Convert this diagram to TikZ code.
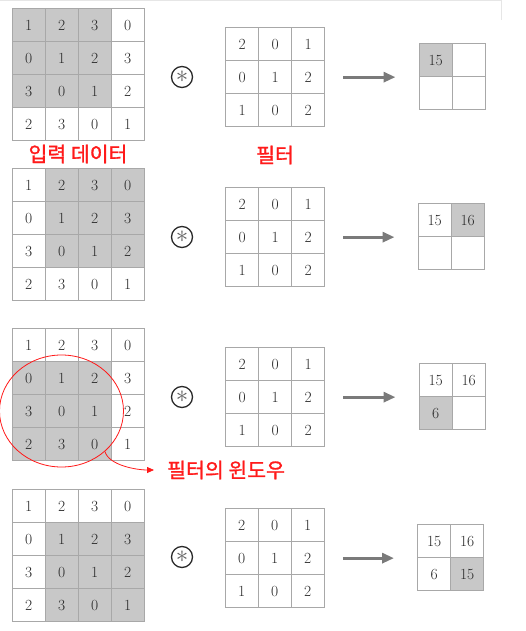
\documentclass[tikz,border=0pt]{standalone}
\usepackage{fontspec}
\newfontfamily\kr[FakeBold=1.3]{Noto Sans CJK KR}
\usetikzlibrary{arrows.meta,shapes.geometric}
\definecolor{gridline}{HTML}{A8A8A8}
\definecolor{shade}{HTML}{C8C8C8}
\definecolor{numcol}{HTML}{2A2A2A}
\definecolor{arrowgray}{HTML}{7A7A7A}
\definecolor{kred}{HTML}{FF1A1A}
\definecolor{faint}{HTML}{E6E6E6}
\tikzset{
  cell/.style={draw=gridline, line width=1.3pt, minimum size=33pt, inner sep=0pt,
    anchor=north west, text=numcol, font=\fontsize{15.5}{17}\selectfont},
  gridframe/.style={draw=gridline, line width=1.3pt, inner sep=0pt, anchor=north west},
  conv/.style={circle, draw=numcol, line width=1.3pt, minimum size=21pt, inner sep=0pt,
    text=numcol!75, font=\fontsize{24}{24}\selectfont},
  bigarrow/.style={draw=arrowgray, line width=3pt, -{Triangle[length=12pt,width=10pt]},
    shorten <=18pt, shorten >=23pt},
  klabel/.style={text=kred, font=\kr\fontsize{20.5}{23}\selectfont, inner sep=2pt},
  window/.style={draw=kred, line width=0.8pt, ellipse, inner sep=0pt},
  winarrow/.style={draw=kred, line width=0.8pt, -{Triangle[length=7pt,width=6pt]}}
}
\newcommand\inputgrid[5]{%
  \foreach \v [count=\k from 0] in {1,2,3,0,0,1,2,3,3,0,1,2,2,3,0,1} {
    \pgfmathtruncatemacro\rr{div(\k,4)}
    \pgfmathtruncatemacro\cc{mod(\k,4)}
    \pgfmathtruncatemacro\sh{(\rr>=#4)&&(\rr<#4+3)&&(\cc>=#5)&&(\cc<#5+3)}
    \ifnum\sh=1 \def\fillc{shade}\else\def\fillc{white}\fi
    \node[cell, fill=\fillc] (#1-\rr-\cc) at (#2+33*\cc, #3+33*\rr) {\v};
  }
  \node[gridframe, minimum size=132pt] (#1) at (#2,#3) {};
}
\newcommand\filtergrid[3]{%
  \foreach \v [count=\k from 0] in {2,0,1,0,1,2,1,0,2} {
    \pgfmathtruncatemacro\rr{div(\k,3)}
    \pgfmathtruncatemacro\cc{mod(\k,3)}
    \node[cell, fill=white] (#1-\rr-\cc) at (#2+33*\cc, #3+33*\rr) {\v};
  }
  \node[gridframe, minimum size=99pt] (#1) at (#2,#3) {};
}
\newcommand\outgrid[4]{%
  \foreach \v/\f [count=\k from 0] in {#4} {
    \pgfmathtruncatemacro\rr{div(\k,2)}
    \pgfmathtruncatemacro\cc{mod(\k,2)}
    \node[cell, fill=\f] (#1-\rr-\cc) at (#2+33*\cc, #3+33*\rr) {\v};
  }
  \node[gridframe, minimum size=66pt] (#1) at (#2,#3) {};
}
\begin{document}
\begin{tikzpicture}[x=1pt,y=-1pt]
\useasboundingbox (0,0) rectangle (526,631);
\draw[faint, line width=0.8pt] (0,0.6) -- (501,0.6) -- (501,20);

% panel 1
\inputgrid{in1}{11.5}{8}{0}{0}
\node[conv] (s1) at (182,77) {$\ast$};
\filtergrid{f1}{225}{27}
\outgrid{o1}{418.5}{43}{15/shade,/white,/white,/white}
\draw[bigarrow] (f1.east) -- (o1.west |- f1.east);
\node[klabel] (l1) at (78,154) {입력 데이터};
\node[klabel] (l2) at (275,155) {필터};

% panel 2
\inputgrid{in2}{11.5}{168}{0}{1}
\node[conv] (s2) at (182,237) {$\ast$};
\filtergrid{f2}{225}{187}
\outgrid{o2}{417.5}{203}{15/white,16/shade,/white,/white}
\draw[bigarrow] (f2.east) -- (o2.west |- f2.east);

% panel 3
\inputgrid{in3}{11.5}{328}{1}{0}
\node[conv] (s3) at (182,397) {$\ast$};
\filtergrid{f3}{225}{347}
\outgrid{o3}{418.5}{363}{15/white,16/white,6/shade,/white}
\draw[bigarrow] (f3.east) -- (o3.west |- f3.east);
\node[window, minimum width=124pt, minimum height=112pt] (win) at (61.5,411) {};
\node[klabel, anchor=west] (l3) at (165,470) {필터의 윈도우};
\draw[winarrow, shorten >=11pt] (win.-43) .. controls +(4,14) and ([xshift=-28pt]l3.west) .. (l3.west);

% panel 4
\inputgrid{in4}{11.5}{489}{1}{1}
\node[conv] (s4) at (182,557) {$\ast$};
\filtergrid{f4}{224.5}{508}
\outgrid{o4}{417}{524}{15/white,16/white,6/white,15/shade}
\draw[bigarrow] (f4.east) -- (o4.west |- f4.east);
\end{tikzpicture}
\end{document}
